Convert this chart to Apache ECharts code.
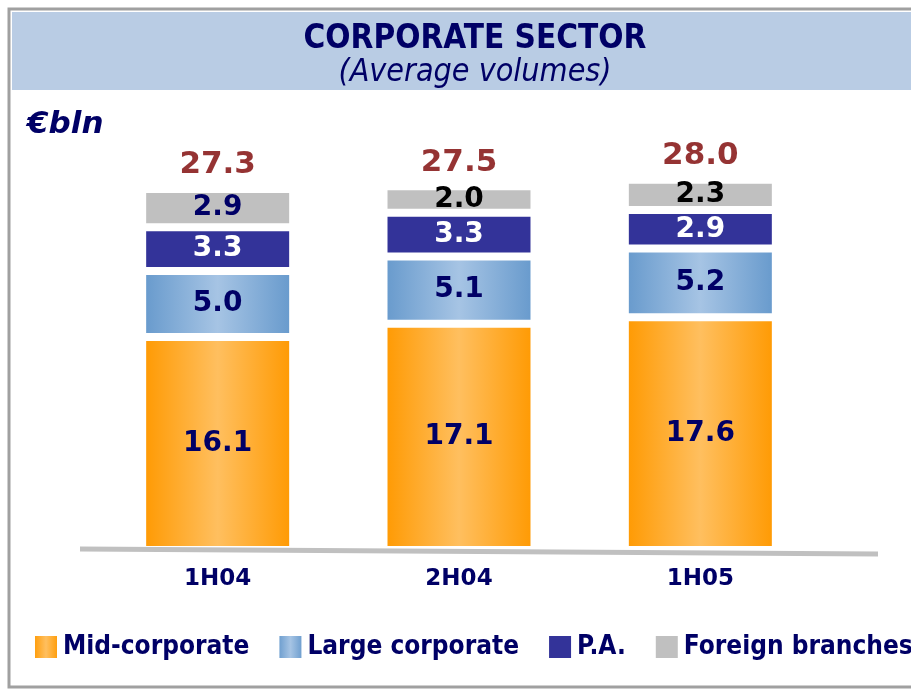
<!DOCTYPE html>
<html>
<head>
<meta charset="utf-8">
<script src="https://cdn.jsdelivr.net/npm/echarts@6/dist/echarts.min.js"></script>
<style>
  html, body { margin: 0; padding: 0; background: #fff; }
  #chart { width: 911px; height: 690px; }
</style>
</head>
<body>
<div id="chart"></div>
<script>
// data
const periods = ["1H04", "2H04", "1H05"];
const midCorporate = [16.1, 17.1, 17.6];
const largeCorporate = [5.0, 5.1, 5.2];
const publicAdmin = [3.3, 3.3, 2.9];
const foreignBranches = [2.9, 2.0, 2.3];
const seriesNames = ["Mid-corporate", "Large corporate", "P.A.", "Foreign branches"];

const totals = periods.map((_, i) =>
  +(midCorporate[i] + largeCorporate[i] + publicAdmin[i] + foreignBranches[i]).toFixed(1)
);

const NAVY = "#000066";
const condensed = "'DejaVu Sans Condensed', 'DejaVu Sans', sans-serif";
const wide = "'DejaVu Sans', Verdana, sans-serif";

const hGrad = (edge, mid) =>
  new echarts.graphic.LinearGradient(0, 0, 1, 0, [
    { offset: 0, color: edge },
    { offset: 0.5, color: mid },
    { offset: 1, color: edge },
  ]);

const segLabel = (color) => ({
  show: true,
  position: "inside",
  color: color,
  fontFamily: wide,
  fontWeight: "bold",
  fontSize: 28,
  formatter: (p) => p.value.toFixed(1),
});

const stackBar = (name, values, color, labelColor) => ({
  name: name,
  type: "bar",
  stack: "total",
  barWidth: 151,
  data: values,
  itemStyle: { color: color, borderColor: "#fff", borderWidth: 4 },
  label: segLabel(labelColor),
  emphasis: { disabled: true },
});

const chart = echarts.init(document.getElementById("chart"));

chart.setOption({
  animation: false,
  backgroundColor: "#fff",
  title: [
    {
      text: "CORPORATE SECTOR",
      subtext: "(Average volumes)",
      left: 470,
      top: 18,
      textAlign: "center",
      itemGap: 1,
      textStyle: { color: NAVY, fontFamily: condensed, fontWeight: "bold", fontSize: 33 },
      subtextStyle: { color: NAVY, fontFamily: condensed, fontStyle: "italic", fontSize: 32 },
    },
    {
      text: "€bln",
      left: 22,
      top: 104,
      textStyle: { color: NAVY, fontFamily: wide, fontWeight: "bold", fontStyle: "italic", fontSize: 31 },
    },
  ],
  graphic: [
    {
      type: "rect",
      z: -10,
      shape: { x: 9, y: 9, width: 930, height: 678 },
      style: { fill: "#fff", stroke: "#a0a0a0", lineWidth: 3 },
    },
    {
      type: "rect",
      z: -9,
      shape: { x: 12, y: 12, width: 920, height: 78 },
      style: { fill: "#b9cce4" },
    },
    {
      type: "line",
      z: 100,
      shape: { x1: 80, y1: 549, x2: 878, y2: 554 },
      style: { stroke: "#c0c0c0", lineWidth: 5 },
    },
  ],
  legend: {
    data: seriesNames,
    left: 28,
    top: 629,
    width: 1200,
    icon: "rect",
    itemWidth: 24,
    itemHeight: 24,
    itemGap: 28,
    textStyle: { color: NAVY, fontFamily: condensed, fontWeight: "bold", fontSize: 26 },
  },
  grid: { left: 97, right: 90, top: 140, bottom: 140 },
  xAxis: {
    type: "category",
    data: periods,
    axisLine: { show: false },
    axisTick: { show: false },
    axisLabel: { color: NAVY, fontFamily: wide, fontWeight: "bold", fontSize: 23, margin: 18 },
  },
  yAxis: {
    type: "value",
    min: 0,
    max: 31,
    show: false,
  },
  series: [
    stackBar(seriesNames[0], midCorporate, hGrad("#ff9900", "#ffbf5f"), NAVY),
    stackBar(seriesNames[1], largeCorporate, hGrad("#6699cc", "#a6c4e4"), NAVY),
    stackBar(seriesNames[2], publicAdmin, "#333399", "#fff"),
    {
      ...stackBar(seriesNames[3], foreignBranches, "#c0c0c0", "#000"),
      data: foreignBranches.map((v, i) => ({
        value: v,
        label: { color: i === 0 ? NAVY : "#000" },
      })),
    },
    {
      name: "Total",
      type: "scatter",
      data: totals.map((t, i) => [i, t]),
      symbolSize: 0,
      silent: true,
      label: {
        show: true,
        position: "top",
        distance: 8,
        color: "#7a0000",
        fontFamily: wide,
        fontWeight: "bold",
        fontSize: 31,
        formatter: (p) => p.value[1].toFixed(1),
      },
    },
  ],
});
</script>
</body>
</html>
